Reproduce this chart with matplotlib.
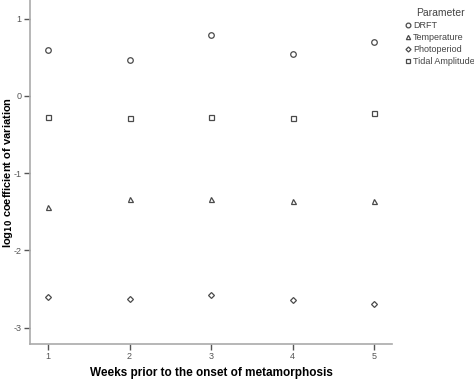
import matplotlib
matplotlib.use("Agg")
import matplotlib.pyplot as plt

plt.rcParams["font.family"] = ["Liberation Sans", "DejaVu Sans"]
plt.rcParams["axes.unicode_minus"] = False

# Data
weeks = [1, 2, 3, 4, 5]
drft = [0.59, 0.47, 0.79, 0.54, 0.70]
temperature = [-1.44, -1.33, -1.335, -1.36, -1.36]
photoperiod = [-2.60, -2.63, -2.575, -2.64, -2.69]
tidal_amplitude = [-0.27, -0.29, -0.275, -0.29, -0.22]

series = [
    ("DRFT", drft, "o", 4.0),
    ("Temperature", temperature, "^", 3.6),
    ("Photoperiod", photoperiod, "D", 3.0),
    ("Tidal Amplitude", tidal_amplitude, "s", 3.6),
]

fig = plt.figure(figsize=(4.74, 3.81), dpi=100)
ax = fig.add_axes([0.0633, 0.097, 0.764, 0.903])

mark_col = "#4a4a4a"
for name, vals, m, ms in series:
    ax.plot(weeks, vals, linestyle="none", marker=m, markersize=ms,
            markerfacecolor="white", markeredgecolor=mark_col,
            markeredgewidth=0.9, label=name)

ax.set_xlim(0.78, 5.22)
ax.set_ylim(-3.21, 1.24)
ax.set_xticks(weeks)
ax.set_yticks([-3, -2, -1, 0, 1])

for side in ["top", "right"]:
    ax.spines[side].set_visible(False)
for side in ["left", "bottom"]:
    ax.spines[side].set_color("#aaaaaa")
    ax.spines[side].set_linewidth(1.2)
ax.tick_params(colors="#555555", labelsize=6.5, length=4, width=1.0,
               labelcolor="#555555", pad=2)

ax.set_xlabel("Weeks prior to the onset of metamorphosis",
              fontsize=8.5, fontweight="bold")
ax.set_ylabel(r"log$_{\mathbf{10}}$ coefficient of variation",
              fontsize=8, fontweight="bold")
ax.xaxis.set_label_coords(0.5, -0.068)
ax.yaxis.set_label_coords(-0.042, 0.5)

leg = fig.legend(title="Parameter", loc="upper left",
                 bbox_to_anchor=(0.852, 0.985), frameon=False,
                 fontsize=6.5, title_fontsize=7.5, handlelength=0.5,
                 handletextpad=0.3, labelspacing=0.35, borderaxespad=0.0,
                 borderpad=0.2, markerscale=0.85)
for t in leg.get_texts():
    t.set_color("#444444")
leg.get_title().set_color("#444444")

fig.savefig("out.png", dpi=100)
